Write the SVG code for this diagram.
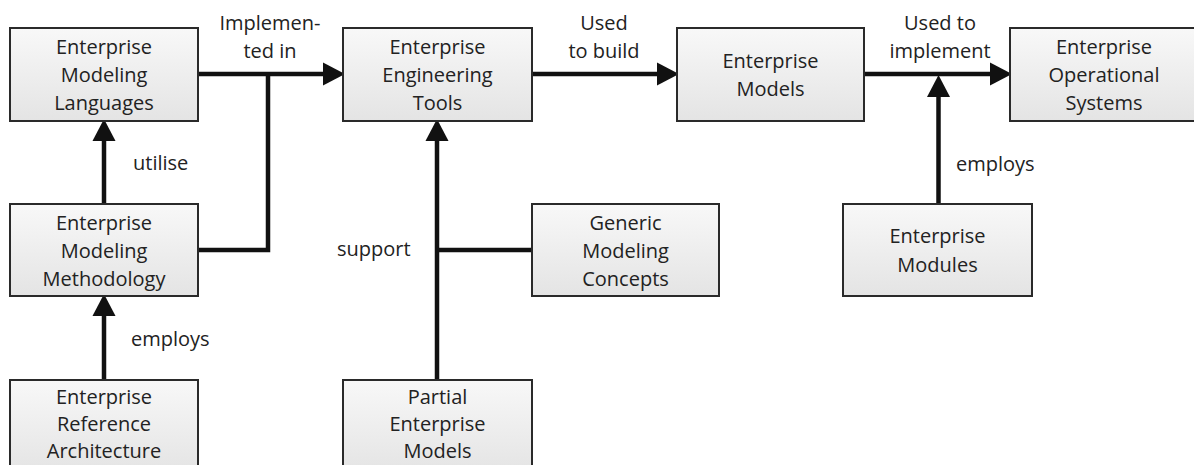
<svg xmlns="http://www.w3.org/2000/svg" width="1194" height="465" viewBox="0 0 1194 465">
  <style>
    .box { fill: url(#boxFill); stroke: #2a2a2a; stroke-width: 2; }
    .t { font-family: "Open Sans", "Liberation Sans", sans-serif; font-size: 20px; fill: #222; text-anchor: middle; }
    .lbl { font-family: "Open Sans", "Liberation Sans", sans-serif; font-size: 20px; fill: #222; }
    .c { fill: none; stroke: #111; stroke-width: 4.5; }
    .ca { fill: none; stroke: #111; stroke-width: 4.5; marker-end: url(#arrow); }
  </style>
  <defs>
    <linearGradient id="boxFill" x1="0" y1="0" x2="0" y2="1">
      <stop offset="0" stop-color="#f8f8f8"/>
      <stop offset="1" stop-color="#e4e4e4"/>
    </linearGradient>
    <marker id="arrow" markerUnits="userSpaceOnUse" markerWidth="22" markerHeight="24" viewBox="0 -11 21 22" refX="0" refY="0" orient="auto">
      <path d="M0,-11 L21,0 L0,11 Z" fill="#111"/>
    </marker>
  </defs>

  <rect width="1194" height="465" fill="#ffffff"/>

  <g id="connectors">
    <path class="ca" d="M198,74 H323"/>
    <path class="c" d="M198,250 H268 V74"/>
    <path class="ca" d="M104,204 V141"/>
    <path class="ca" d="M104,380 V316"/>
    <path class="ca" d="M532,74 H657"/>
    <path class="ca" d="M864,74 H990"/>
    <path class="ca" d="M938.5,204 V97"/>
    <path class="ca" d="M437,380 V141"/>
    <path class="c" d="M532,250 H437"/>
  </g>

  <g id="labels">
    <text class="t" x="270" y="30">Implemen-</text>
    <text class="t" x="270" y="58">ted in</text>
    <text class="t" x="604" y="30">Used</text>
    <text class="t" x="604" y="58">to build</text>
    <text class="t" x="940" y="30">Used to</text>
    <text class="t" x="940" y="58">implement</text>
    <text class="lbl" x="133" y="170">utilise</text>
    <text class="lbl" x="131" y="346">employs</text>
    <text class="lbl" x="956" y="171">employs</text>
    <text class="lbl" x="337" y="256">support</text>
  </g>

  <g id="enterprise-modeling-languages">
    <rect class="box" x="10" y="28" width="188" height="93"/>
    <text class="t" x="104" y="54">Enterprise</text>
    <text class="t" x="104" y="82">Modeling</text>
    <text class="t" x="104" y="110">Languages</text>
  </g>

  <g id="enterprise-engineering-tools">
    <rect class="box" x="343" y="28" width="189" height="93"/>
    <text class="t" x="437.5" y="54">Enterprise</text>
    <text class="t" x="437.5" y="82">Engineering</text>
    <text class="t" x="437.5" y="110">Tools</text>
  </g>

  <g id="enterprise-models">
    <rect class="box" x="677" y="28" width="187" height="93"/>
    <text class="t" x="770.5" y="68">Enterprise</text>
    <text class="t" x="770.5" y="96">Models</text>
  </g>

  <g id="enterprise-operational-systems">
    <rect class="box" x="1010" y="28" width="190" height="93"/>
    <text class="t" x="1104" y="54">Enterprise</text>
    <text class="t" x="1104" y="82">Operational</text>
    <text class="t" x="1104" y="110">Systems</text>
  </g>

  <g id="enterprise-modeling-methodology">
    <rect class="box" x="10" y="204" width="188" height="92"/>
    <text class="t" x="104" y="229.5">Enterprise</text>
    <text class="t" x="104" y="257.5">Modeling</text>
    <text class="t" x="104" y="285.5">Methodology</text>
  </g>

  <g id="generic-modeling-concepts">
    <rect class="box" x="532" y="204" width="187" height="92"/>
    <text class="t" x="625.5" y="229.5">Generic</text>
    <text class="t" x="625.5" y="257.5">Modeling</text>
    <text class="t" x="625.5" y="285.5">Concepts</text>
  </g>

  <g id="enterprise-modules">
    <rect class="box" x="843" y="204" width="189" height="92"/>
    <text class="t" x="937.5" y="243">Enterprise</text>
    <text class="t" x="937.5" y="272">Modules</text>
  </g>

  <g id="enterprise-reference-architecture">
    <rect class="box" x="10" y="380" width="188" height="93"/>
    <text class="t" x="104" y="404">Enterprise</text>
    <text class="t" x="104" y="431">Reference</text>
    <text class="t" x="104" y="458">Architecture</text>
  </g>

  <g id="partial-enterprise-models">
    <rect class="box" x="343" y="380" width="189" height="93"/>
    <text class="t" x="437.5" y="404">Partial</text>
    <text class="t" x="437.5" y="431">Enterprise</text>
    <text class="t" x="437.5" y="458">Models</text>
  </g>
</svg>
